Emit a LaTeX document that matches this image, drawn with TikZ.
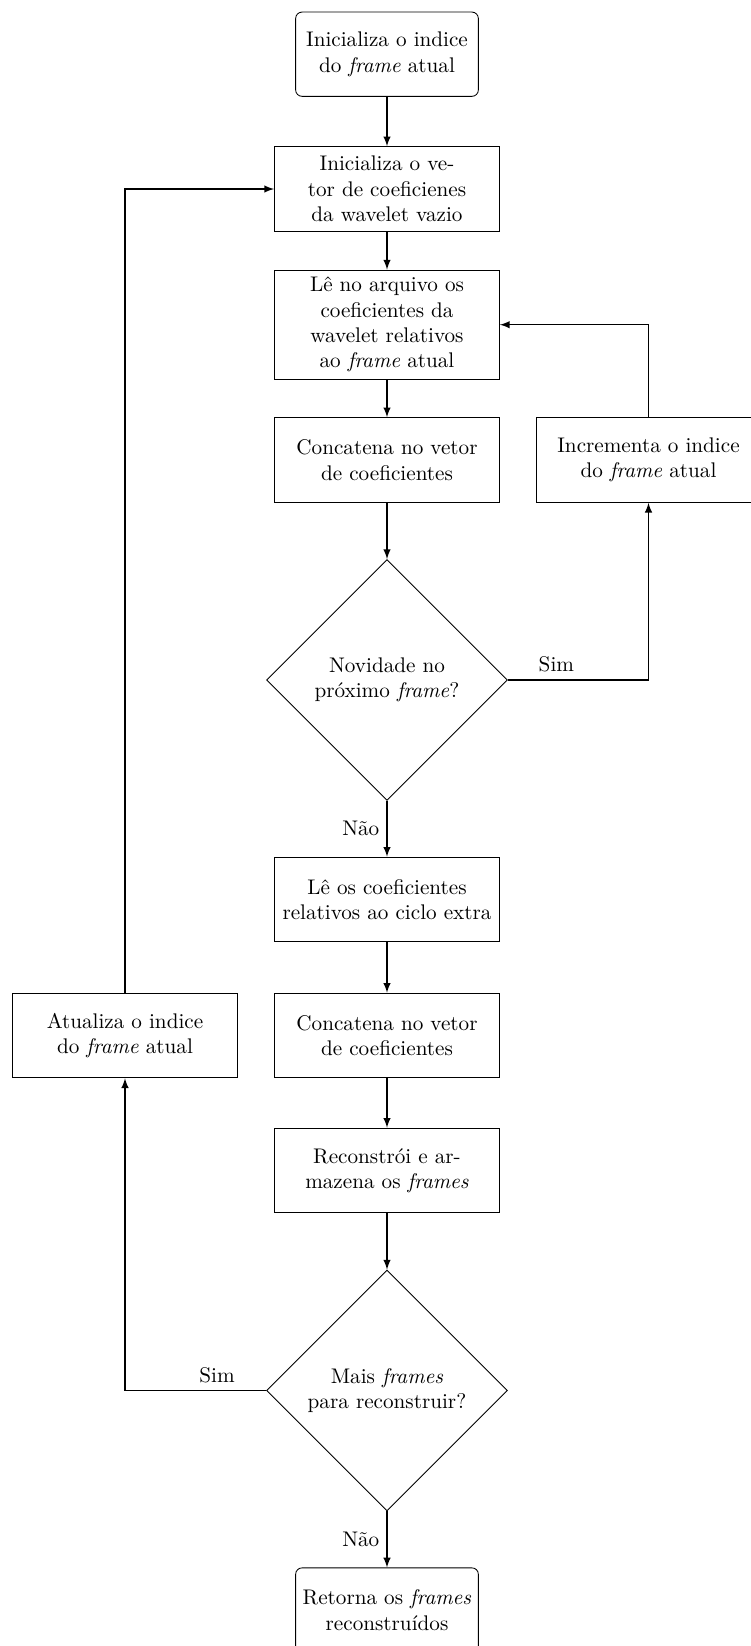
\documentclass[tikz,border=0pt]{standalone}
\usepackage{fontspec}
\usetikzlibrary{shapes.geometric}
\begin{document}
\begin{tikzpicture}[x=0.47237pt,y=-0.47237pt,
  proc/.style={draw,thin,rectangle,align=center,minimum width=106.26pt,minimum height=40pt,inner sep=3.333pt},
  term/.style={draw,thin,rectangle,rounded corners=3pt,align=center,minimum width=86.3pt,minimum height=39.8pt},
  dec/.style={draw,thin,diamond,align=center,minimum width=113.8pt,minimum height=113.8pt,inner sep=0pt},
  arr/.style={-latex,semithick}]
\useasboundingbox (0,0) rectangle (751,1646);
\node[term] (start) at (387,54.2) {Inicializa o indice\\do \emph{frame} atual};
\node[proc] (b1) at (387,189) {Inicializa o ve-\\tor de coeficienes\\da wavelet vazio};
\node[proc] (b2) at (387,324.7) {Lê no arquivo os\\coeficientes da\\wavelet relativos\\ao \emph{frame} atual};
\node[proc] (c1) at (387,460) {Concatena no vetor\\de coeficientes};
\node[proc] (inc) at (648.5,460) {Incrementa o indice\\do \emph{frame} atual};
\node[dec] (d1) at (387,680) {Novidade no\\próximo \emph{frame}?};
\node[proc] (le) at (387,899.5) {Lê os coeficientes\\relativos ao ciclo extra};
\node[proc] (c2) at (387,1035.5) {Concatena no vetor\\de coeficientes};
\node[proc] (atu) at (125,1035.5) {Atualiza o indice\\do \emph{frame} atual};
\node[proc] (rec) at (387,1170.5) {Reconstrói e ar-\\mazena os \emph{frames}};
\node[dec] (d2) at (387,1390.5) {Mais \emph{frames}\\para reconstruir?};
\node[term] (end) at (387,1610) {Retorna os \emph{frames}\\reconstruídos};
\draw[arr] (start) -- (b1);
\draw[arr] (b1) -- (b2);
\draw[arr] (b2) -- (c1);
\draw[arr] (c1) -- (d1);
\draw[arr] (d1) -- node[left] {Não} (le);
\draw[arr] (le) -- (c2);
\draw[arr] (c2) -- (rec);
\draw[arr] (rec) -- (d2);
\draw[arr] (d2) -- node[left] {Não} (end);
\draw[arr] (d1.east) -- ++(48.5,0) node[above] {Sim} -| (inc.south);
\draw[arr] (inc.north) |- (b2.east);
\draw[arr] (d2.west) -- ++(-49,0) node[above] {Sim} -| (atu.south);
\draw[arr] (atu.north) |- (b1.west);
\end{tikzpicture}
\end{document}
